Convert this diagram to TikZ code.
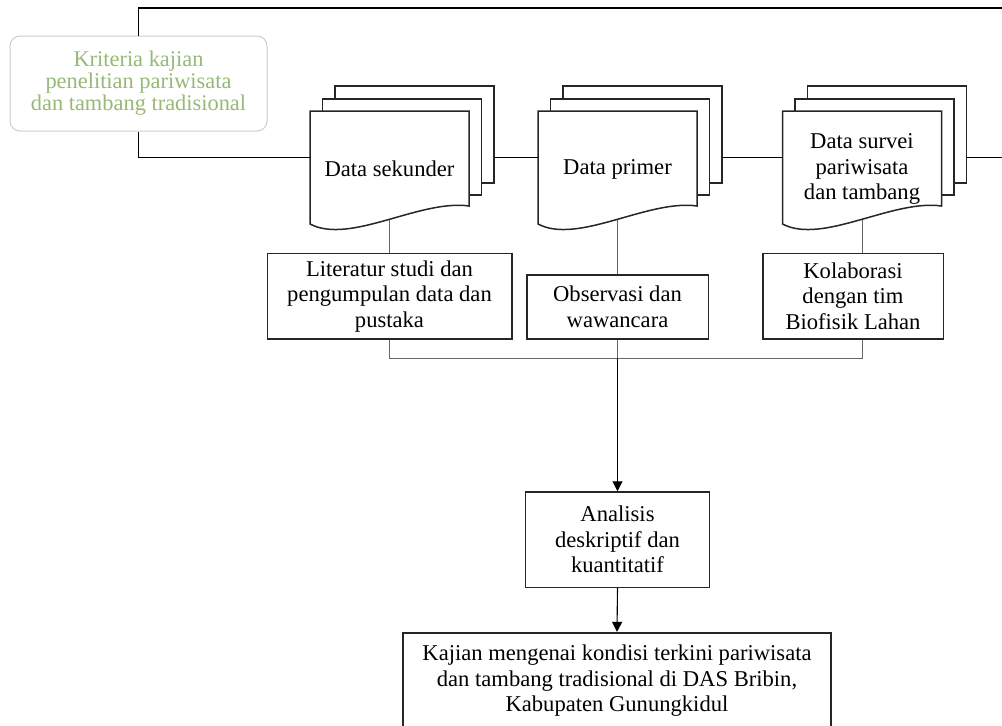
\documentclass[tikz,border=0pt]{standalone}
\usepackage{fontspec}
\setmainfont{Liberation Serif}
\usetikzlibrary{arrows.meta,calc}
\definecolor{kritgreen}{RGB}{150,186,118}
\definecolor{kritborder}{RGB}{205,205,205}
\newcommand\docstack[4]{% name, left, top, text
  \draw[docline] (#2+25,#3-25) rectangle (#2+184,#3+72);
  \draw[docline] (#2+12.5,#3-12) rectangle (#2+171.5,#3+84);
  \draw[docline] (#2,#3+113) -- (#2,#3) -- (#2+159,#3) -- (#2+159,#3+95)
     .. controls (#2+110,#3+88) and (#2+40,#3+134) .. (#2,#3+113) -- cycle;
  \node[doctext, minimum width=159pt, minimum height=116pt] (#1) at (#2+79.5,#3+58) {#4};
  \coordinate (#1-in) at (#2,#3+46.5);
  \coordinate (#1-out) at (#2+184,#3+46.5);
  \coordinate (#1-bot) at (#2+79.5,#3+108.5);
}
\begin{document}
\begin{tikzpicture}[x=1pt,y=-1pt,
  txt/.style={font=\fontsize{22.6}{25.5}\selectfont, align=center, inner sep=0pt},
  box/.style={txt, draw=black!85, line width=1.6pt, fill=white},
  doctext/.style={txt},
  docline/.style={draw=black!85, line width=1.5pt, fill=white},
  frame/.style={draw=black, line width=1.4pt},
  conn/.style={draw=black!60, line width=1pt},
  arr/.style={draw=black, line width=1.1pt, -{Triangle[length=10pt,width=10pt]}},
  krit/.style={txt, text=kritgreen, draw=kritborder, line width=1pt, rounded corners=10pt,
    fill=white, font=\fontsize{22.4}{22}\selectfont},
]
\clip (0,0) rectangle (1002,726);

% coordinates at the edges
\coordinate (topR) at (1004,8);
\coordinate (rightR) at (1004,157.5);
\coordinate (junc) at (617.5,358);

% source node
\node[krit, minimum width=257pt, minimum height=95pt] (krit) at (138.5,83.5)
  {Kriteria kajian\\penelitian pariwisata\\dan tambang tradisional};

% document stacks
\docstack{sek}{310}{111}{Data sekunder}
\docstack{pri}{538}{111}{Data primer}
\docstack{sv}{782.5}{111}{Data survei\\pariwisata\\dan tambang}

% boxes
\node[box, minimum width=244.4pt, minimum height=85.7pt] (lit) at (389.5,296.2)
  {Literatur studi dan\\pengumpulan data dan\\pustaka};
\node[box, minimum width=181.6pt, minimum height=64.3pt] (obs) at (617.5,306.9)
  {Observasi dan\\wawancara};
\node[box, minimum width=180.6pt, minimum height=85.7pt] (kol) at (853,296.2)
  {Kolaborasi\\dengan tim\\Biofisik Lahan};
\node[box, minimum width=184.3pt, minimum height=95.3pt] (ana) at (617.5,539.7)
  {Analisis\\deskriptif dan\\kuantitatif};
\node[box, minimum width=428.3pt, minimum height=96pt] (kaj) at (617,680.7)
  {Kajian mengenai kondisi terkini pariwisata\\dan tambang tradisional di DAS Bribin,\\Kabupaten Gunungkidul};

% frame connectors
\draw[frame] (krit.north) -- (krit.north |- topR) -- (topR);
\draw[frame] (krit.south) |- (sek-in);
\draw[frame] (sek-out) -- (pri-in);
\draw[frame] (pri-out) -- (sv-in);
\draw[frame] (sv-out) -- (rightR);

% document to box connectors
\draw[conn] (sek-bot) -- (sek-bot |- lit.north);
\draw[conn] (pri-bot) -- (pri-bot |- obs.north);
\draw[conn] (sv-bot) -- (sv-bot |- kol.north);

% collection line
\draw[conn] (lit.south) |- (junc);
\draw[conn] (kol.south -| sv-bot) |- (junc);
\draw[conn] (obs.south) -- (junc);

% arrows
\draw[arr] (junc) -- (ana.north);
\draw[arr] (ana.south) -- (kaj.north);
\end{tikzpicture}
\end{document}
